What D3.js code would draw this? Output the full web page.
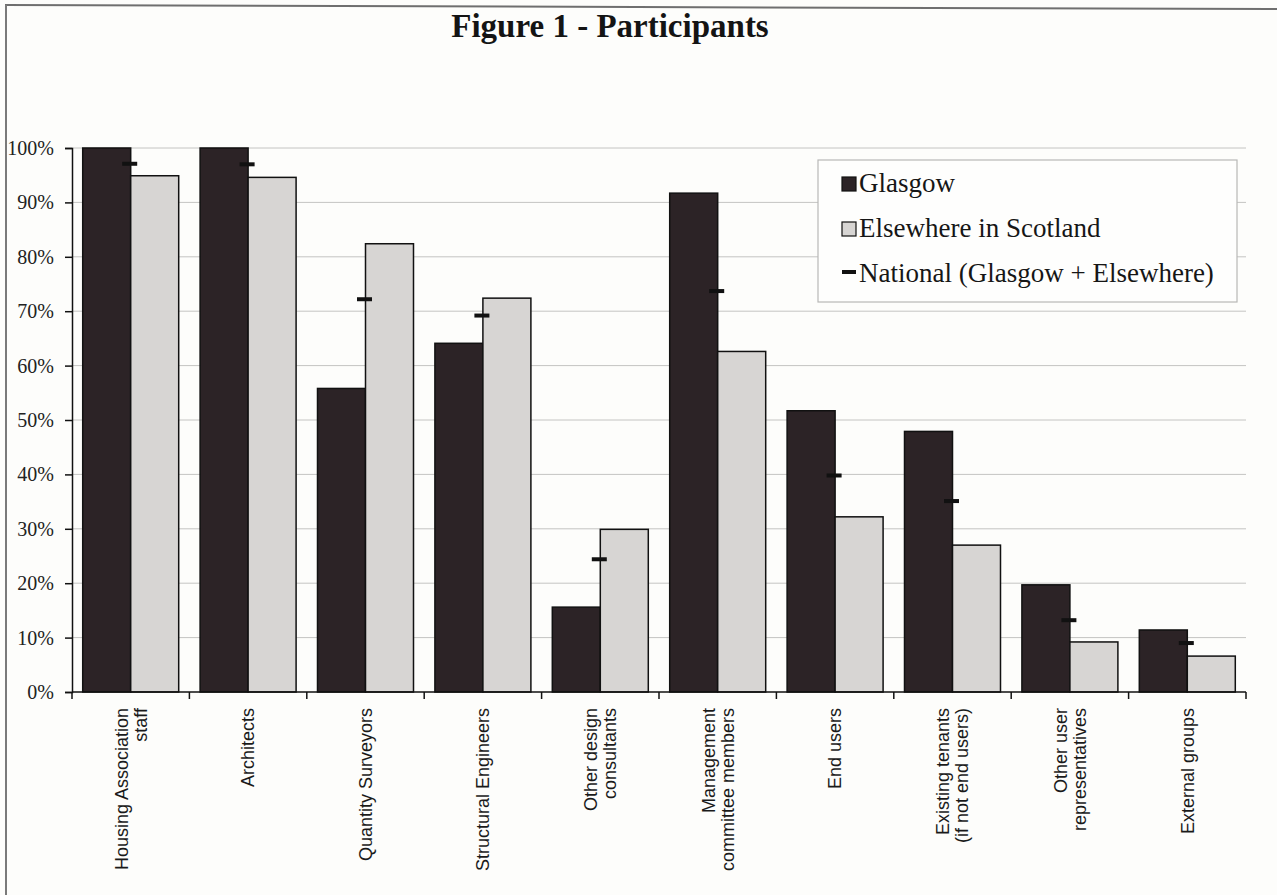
<!DOCTYPE html>
<html>
<head>
<meta charset="utf-8">
<script src="https://cdn.jsdelivr.net/npm/d3@7"></script>
<style>
  html, body { margin: 0; padding: 0; background: #fdfdfb; }
  svg { display: block; }
</style>
</head>
<body>
<svg id="chart" width="1277" height="895"></svg>
<script>
// Participation by group (%)
const categories = [
  ["Housing Association", "staff"],
  ["Architects"],
  ["Quantity Surveyors"],
  ["Structural Engineers"],
  ["Other design", "consultants"],
  ["Management", "committee members"],
  ["End users"],
  ["Existing tenants", "(if not end users)"],
  ["Other user", "representatives"],
  ["External groups"]
];
const glasgow   = [100, 100, 55.8, 64.1, 15.6, 91.7, 51.7, 47.9, 19.7, 11.4];
const elsewhere = [94.9, 94.6, 82.4, 72.4, 29.9, 62.6, 32.2, 27.0, 9.2, 6.6];
const national  = [97.1, 97.0, 72.2, 69.2, 24.4, 73.7, 39.8, 35.1, 13.2, 9.0];
const seriesNames = ["Glasgow", "Elsewhere in Scotland", "National (Glasgow + Elsewhere)"];
const yTicks = [0, 10, 20, 30, 40, 50, 60, 70, 80, 90, 100];

const svg = d3.select("#chart");
const W = 1277, H = 895;
const plot = { left: 72, right: 1246, top: 148, bottom: 692 };
const darkFill = "#2c2326", lightFill = "#d7d5d3";

svg.append("rect").attr("width", W).attr("height", H).attr("fill", "#fdfdfb");

// page frame
svg.append("line").attr("x1", 5).attr("y1", 5).attr("x2", W).attr("y2", 9)
  .attr("stroke", "#6f6f6f").attr("stroke-width", 2);
svg.append("line").attr("x1", 6).attr("y1", 5).attr("x2", 6).attr("y2", H)
  .attr("stroke", "#7a7a7a").attr("stroke-width", 2);

// title
svg.append("text")
  .attr("x", 610).attr("y", 37)
  .attr("text-anchor", "middle")
  .attr("font-family", "'Liberation Serif', 'Times New Roman', serif")
  .attr("font-weight", "bold").attr("font-size", 33)
  .attr("fill", "#141414")
  .text("Figure 1 - Participants");

const keys = categories.map((d, i) => i);
const x = d3.scaleBand().domain(keys).range([plot.left, plot.right]).paddingInner(0).paddingOuter(0);
const xSub = d3.scaleBand().domain(["g", "e"]).range([0, x.bandwidth()]).paddingInner(0).paddingOuter(0.223);
const y = d3.scaleLinear().domain([0, 100]).range([plot.bottom, plot.top]);

// gridlines
svg.append("g").selectAll("line").data(yTicks.filter(t => t > 0)).join("line")
  .attr("x1", plot.left).attr("x2", plot.right)
  .attr("y1", d => y(d)).attr("y2", d => y(d))
  .attr("stroke", "#c4c4c2").attr("stroke-width", 1);

// y axis
const yAxis = svg.append("g").attr("transform", `translate(${plot.left},0)`)
  .call(d3.axisLeft(y).tickValues(yTicks).tickFormat(d => d + "%").tickSize(7).tickPadding(11));
yAxis.select(".domain").attr("stroke", "#111").attr("stroke-width", 1.5);
yAxis.selectAll(".tick line").attr("stroke", "#111").attr("stroke-width", 1.5);
yAxis.selectAll("text")
  .attr("font-family", "'Liberation Serif', 'Times New Roman', serif")
  .attr("font-size", 20).attr("fill", "#222");

// bars
const barG = svg.append("g");
barG.selectAll("rect.g").data(glasgow).join("rect").attr("class", "g")
  .attr("x", (d, i) => x(i) + xSub("g")).attr("width", xSub.bandwidth())
  .attr("y", d => y(d)).attr("height", d => y(0) - y(d))
  .attr("fill", darkFill).attr("stroke", "#111").attr("stroke-width", 1.5);
barG.selectAll("rect.e").data(elsewhere).join("rect").attr("class", "e")
  .attr("x", (d, i) => x(i) + xSub("e")).attr("width", xSub.bandwidth())
  .attr("y", d => y(d)).attr("height", d => y(0) - y(d))
  .attr("fill", lightFill).attr("stroke", "#111").attr("stroke-width", 1.5);

// national markers
svg.append("g").selectAll("rect").data(national).join("rect")
  .attr("x", (d, i) => x(i) + xSub("e") - 8.5).attr("width", 15)
  .attr("y", d => y(d) - 2).attr("height", 4)
  .attr("fill", "#111");

// x axis with ticks at category boundaries
const xa = svg.append("g");
xa.append("line").attr("x1", plot.left).attr("x2", plot.right)
  .attr("y1", plot.bottom).attr("y2", plot.bottom)
  .attr("stroke", "#111").attr("stroke-width", 1.5);
const bounds = keys.map(i => x(i)).concat([plot.right]);
xa.selectAll("line.tk").data(bounds).join("line").attr("class", "tk")
  .attr("x1", d => d).attr("x2", d => d)
  .attr("y1", plot.bottom).attr("y2", plot.bottom + 7)
  .attr("stroke", "#111").attr("stroke-width", 1.5);

// rotated category labels
const lh = 19;
const lab = svg.append("g").selectAll("text").data(categories).join("text")
  .attr("transform", (d, i) => `translate(${x(i) + x.bandwidth() / 2},708) rotate(-90)`)
  .attr("text-anchor", "end")
  .attr("font-family", "'Liberation Sans', Arial, sans-serif")
  .attr("font-size", 18).attr("fill", "#1a1a1a");
lab.each(function(lines) {
  const t = d3.select(this);
  lines.forEach((s, j) => {
    t.append("tspan").attr("x", 0)
      .attr("y", (j - (lines.length - 1) / 2) * lh)
      .attr("dy", "0.35em").text(s);
  });
});

// legend
const lg = svg.append("g");
lg.append("rect").attr("x", 818).attr("y", 160).attr("width", 419).attr("height", 142)
  .attr("fill", "#fefefd").attr("stroke", "#b8b8b6").attr("stroke-width", 1.2);
const rows = [192, 237, 282];
lg.append("rect").attr("x", 842).attr("y", rows[0] - 15).attr("width", 14).attr("height", 14)
  .attr("fill", darkFill).attr("stroke", "#111").attr("stroke-width", 1.2);
lg.append("rect").attr("x", 842).attr("y", rows[1] - 15).attr("width", 14).attr("height", 14)
  .attr("fill", lightFill).attr("stroke", "#111").attr("stroke-width", 1.2);
lg.append("rect").attr("x", 842).attr("y", rows[2] - 12).attr("width", 14).attr("height", 4)
  .attr("fill", "#111");
lg.selectAll("text").data(seriesNames).join("text")
  .attr("x", 859).attr("y", (d, i) => rows[i])
  .attr("font-family", "'Liberation Serif', 'Times New Roman', serif")
  .attr("font-size", 27).attr("fill", "#161616")
  .text(d => d);
</script>
</body>
</html>
